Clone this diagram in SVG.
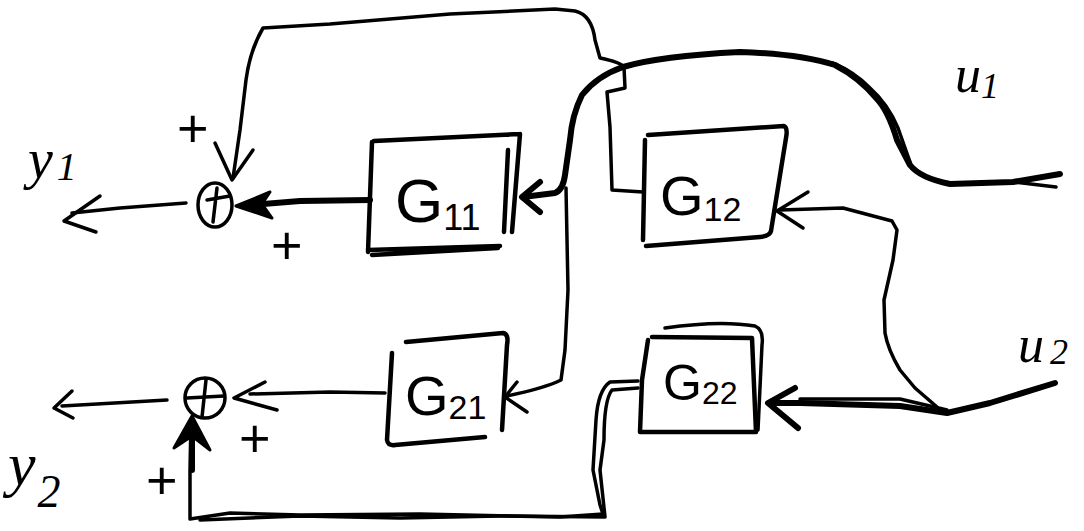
<svg xmlns="http://www.w3.org/2000/svg" width="1084" height="531" viewBox="0 0 1084 531">
<style>
.ln{fill:none;stroke:#000;stroke-width:3.5;stroke-linecap:round;stroke-linejoin:round}
.th{fill:none;stroke:#000;stroke-width:6;stroke-linecap:round;stroke-linejoin:round}
.bx{fill:none;stroke:#000;stroke-width:4.5;stroke-linecap:round;stroke-linejoin:round}
.t{font-family:"Liberation Sans","DejaVu Sans",sans-serif;fill:#000}
.it{font-family:"Liberation Serif","DejaVu Serif",serif;font-style:italic;fill:#000}
.pl{font-family:"Liberation Sans","DejaVu Sans",sans-serif;fill:#000;font-size:54px}
</style>
<rect width="1084" height="531" fill="#fff"/>
<g id="connectors">
  <!-- u1 to G11 -->
  <path class="th" d="M1060,174 L1013,182 L950,184 Q920,178 910,165 L897,140 Q888,110 876,98 Q860,78 835,65 Q800,54 740,52 Q660,56 623,67 Q597,76 582,95 Q572,115 570,140 L565,175 Q563,190 555,193 L523,197"/>
  <path class="ln" d="M1056,187 L1013,182"/>
  <path class="ln" d="M910,162 L898,128 Q888,104 870,88 Q855,72 833,63"/>
  <path class="th" d="M540,182 L522,197 L540,212"/>
  <!-- junction down to G21 -->
  <path class="ln" d="M566,188 L568,290 L565,350 L561,380 Q545,388 507,396"/>
  <path class="ln" d="M517,382 L505,397 L527,412"/>
  <!-- G12 to sum1 (top feedback) -->
  <path class="ln" d="M643,192 L612,190 L610,127 L607,92 L625,88 L624,67 Q620,62 600,58 L595,40 Q592,15 575,11 L555,9 L450,14 L330,24 L263,28 Q250,50 246,80 L240,130 L233,178"/>
  <path class="ln" d="M215,143 L232,180 L253,150"/>
  <!-- G11 to sum1 -->
  <path class="th" d="M370,200 L300,201 L250,205"/>
  <path d="M236,206 L270,192 L262,204 L272,218 Z" fill="#000" stroke="#000" stroke-width="3" stroke-linejoin="round"/>
  <!-- sum1 to y1 -->
  <path class="ln" d="M186,203 L120,208 L72,213"/>
  <path class="ln" d="M100,196 L64,221 L96,232"/>
  <!-- G21 to sum2 -->
  <path class="ln" d="M385,393 L330,392 L250,394"/>
  <path class="ln" d="M265,382 L234,398 L277,410"/>
  <!-- sum2 to y2 -->
  <path class="ln" d="M167,400 L62,406"/>
  <path class="ln" d="M72,391 L54,408 L73,418"/>
  <!-- G22 to sum2 (bottom loop) -->
  <path class="ln" d="M638,381 L610,382 Q598,390 596,420 L593,470 L600,505 L603,514 L560,517 L420,514 L300,515 L230,513 L190,519 L190,470 L191,420"/>
  <path class="ln" d="M638,388 L612,390 Q604,400 604,440 L600,470 L605,517 L500,516 L400,518 L300,516 L200,520"/>
  <path class="th" d="M192,470 L192,422"/>
  <path d="M192,416 L174,448 L192,436 L210,450 Z" fill="#000" stroke="#000" stroke-width="3" stroke-linejoin="round"/>
  <!-- u2 to G22 -->
  <path class="th" d="M1055,383 L990,403 L947,413 L900,406 L800,403 L772,403"/>
  <path class="ln" d="M947,410 L900,399 L800,399"/>
  <path class="th" d="M795,388 L768,403 L798,428"/>
  <!-- u2 to G12 -->
  <path class="ln" d="M937,407 L915,388 L900,370 Q888,350 885,333 L884,300 L893,260 L897,230 L892,221 L843,208 L780,210"/>
  <path class="ln" d="M808,192 L777,211 L803,228"/>
</g>
<g id="G11">
  <path class="bx" d="M374,141 L520,134 M520,134 L512,232 M504,232 L508,150 M372,142 L368,252 M368,250 L500,246 M372,255 L498,248"/>
  <text class="t" x="395" y="222" font-size="62">G<tspan font-size="36" dy="8">11</tspan></text>
</g>
<g id="G12">
  <path class="bx" d="M648,135 L784,126 Q788,128 786,138 L771,231 Q770,236 760,237 L646,246 M645,140 L643,240"/>
  <text class="t" x="660" y="215" font-size="56">G<tspan font-size="34" dy="6">12</tspan></text>
</g>
<g id="G21">
  <path class="bx" d="M406,342 L503,333 Q509,334 507,345 L502,430 M392,353 L387,440 Q388,446 395,445 L485,437"/>
  <text class="t" x="405" y="415" font-size="56">G<tspan font-size="34" dy="4">21</tspan></text>
</g>
<g id="G22">
  <path class="bx" d="M652,337 L752,338 L756,432 L640,432 L642,380 L648,340"/>
  <path class="ln" d="M665,328 Q720,320 755,326 Q764,330 762,345 L758,430"/>
  <text class="t" x="663" y="400" font-size="50">G<tspan font-size="32" dy="4">22</tspan></text>
</g>
<g id="sum1">
  <ellipse class="ln" cx="215" cy="205" rx="17" ry="22"/>
  <path class="ln" d="M207,200 L230,196 M217,188 L213,222"/>
  <text class="pl" x="177" y="147">+</text>
  <text class="pl" x="271" y="264">+</text>
</g>
<g id="sum2">
  <circle class="ln" cx="205" cy="398" r="20"/>
  <path class="ln" d="M187,398 L224,396 M206,380 L202,417"/>
  <text class="pl" x="239" y="457">+</text>
  <text class="pl" x="146" y="499">+</text>
</g>
<g id="y1">
  <text class="it" x="28" y="178" font-size="56">y<tspan font-size="40" dx="4" dy="2">1</tspan></text>
</g>
<g id="y2">
  <text class="it" x="8" y="485" font-size="62">y<tspan font-size="46" dx="2" dy="22">2</tspan></text>
</g>
<g id="u1">
  <text class="it" x="955" y="92" font-size="52">u<tspan font-size="36" dy="6">1</tspan></text>
</g>
<g id="u2">
  <text class="it" x="1018" y="362" font-size="52">u<tspan font-size="36" dx="6" dy="2">2</tspan></text>
</g>
</svg>
